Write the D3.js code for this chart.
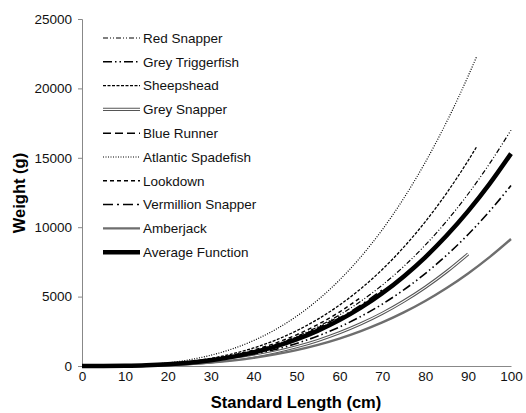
<!DOCTYPE html>
<html><head><meta charset="utf-8">
<script src="https://cdn.jsdelivr.net/npm/d3@7/dist/d3.min.js"></script>
<style>body{margin:0;background:#fff;} svg{display:block;font-family:"Liberation Sans",Arial,sans-serif;}</style>
</head><body>
<script>
// Standard lengths (cm) at which each curve was read
const lengths = [0,5,10,15,20,25,30,35,40,45,50,55,60,65,70,75,80,85,90,95,100];
// Weights (g) at those lengths (last entry may be at a custom end length)
const seriesNames = ["Red Snapper","Grey Triggerfish","Sheepshead","Grey Snapper","Blue Runner","Atlantic Spadefish","Lookdown","Vermillion Snapper","Amberjack","Average Function"];
const redSnapper      = [0,2.1,17,57,136,266,459,729,1088,1549,2125,2828,3672,4669,5831,7172,8704,10441,12393,14576,17000];
const greyTriggerfish = [0,1.6,13,44,104,203,351,557,832,1185,1625,2163,2808,3570,4459,5484,6656,7984,9477,11146,13000];
const sheepshead      = [0,2.5,20,68,162,317,548,870,1298,1849,2536,3376,4383,5572,6959,8560,10389,12461,14792];
const sheepsheadEnd   = [92,15800];
const greySnapper     = [0,1.4,11,37,89,173,299,475,708,1009,1384,1842,2391,3040,3797,4670,5668,6799,8070];
const blueRunner      = [0,2.1,16.5,56,132,258,446,707,1056,1504,2063,2745,3564];
const atlanticSpadefish = [0,3.6,28.6,97,229,447,773,1228,1833,2610,3580,4765,6186,7865,9823,12083,14664,17590,20879];
const spadefishEnd    = [92,22300];
const lookdown        = [0,2.3,18,61,144,281,486,772,1152,1640,2250,2995,3888,4943];
const vermillionSnapper = [0,2,16,54,128,250,432,686,1024,1458,2000,2662,3456,4394,5488];
const amberjack       = [0,1.1,9.2,31,73,143,247,392,586,834,1144,1523,1976,2513,3138,3860,4685,5619,6670,7845,9150];
const averageFunction = [0,1.9,15.3,51.6,122,239,413,656,979,1394,1913,2546,3305,4202,5248,6455,7834,9397,11154,13118,15300];
const xTicks = [0,10,20,30,40,50,60,70,80,90,100];
const yTicks = [0,5000,10000,15000,20000,25000];

function pts(vals, end){ const p = vals.map((v,i)=>[lengths[i],v]); if(end) p.push(end); return p; }

const data = [
  {name:"Red Snapper", p:pts(redSnapper), st:[{c:"#000",w:1.2,d:"5,2,1,2,1,2"}]},
  {name:"Grey Triggerfish", p:pts(greyTriggerfish), st:[{c:"#000",w:1.6,d:"9,3,1.5,3,1.5,3"}]},
  {name:"Sheepshead", p:pts(sheepshead,sheepsheadEnd), st:[{c:"#000",w:1.3,d:"3,1.5"}]},
  {name:"Grey Snapper", p:pts(greySnapper), st:[{c:"#555",w:3.2,d:null},{c:"#fff",w:1.1,d:null}]},
  {name:"Blue Runner", p:pts(blueRunner), st:[{c:"#000",w:1.5,d:"8,4"}]},
  {name:"Atlantic Spadefish", p:pts(atlanticSpadefish,spadefishEnd), st:[{c:"#000",w:1.2,d:"1,1.5"}]},
  {name:"Lookdown", p:pts(lookdown), st:[{c:"#000",w:1.4,d:"4,3"}]},
  {name:"Vermillion Snapper", p:pts(vermillionSnapper), st:[{c:"#000",w:1.5,d:"10,4,2,4"}]},
  {name:"Amberjack", p:pts(amberjack), st:[{c:"#6e6e6e",w:2.4,d:null}]},
  {name:"Average Function", p:pts(averageFunction), st:[{c:"#000",w:4.5,d:null}]}
];

const W=526,H=413;
const svg=d3.select("body").append("svg").attr("width",W).attr("height",H);
const x=d3.scaleLinear().domain([0,100]).range([82,511]);
const y=d3.scaleLinear().domain([0,25000]).range([366,19]);

// y axis
const ya=svg.append("g").attr("transform","translate(82,0)")
  .call(d3.axisLeft(y).tickValues(yTicks).tickSize(4).tickPadding(6).tickFormat(d3.format("d")));
ya.select(".domain").attr("stroke","#888");
ya.selectAll(".tick line").attr("stroke","#888");
ya.selectAll("text").attr("font-size","13.5px").attr("fill","#111").attr("font-family","Liberation Sans, Arial, sans-serif");

// x axis
const xa=svg.append("g").attr("transform","translate(0,366)")
  .call(d3.axisBottom(x).tickValues(xTicks).tickSize(0).tickPadding(5).tickFormat(d3.format("d")));
xa.select(".domain").attr("stroke","#888");
xa.selectAll("text").attr("font-size","13.5px").attr("fill","#111").attr("font-family","Liberation Sans, Arial, sans-serif");

const line=d3.line().x(d=>x(d[0])).y(d=>y(d[1])).curve(d3.curveMonotoneX);
const g=svg.append("g");
data.forEach(s=>{
  s.st.forEach(st=>{
    g.append("path").attr("d",line(s.p)).attr("fill","none").attr("stroke",st.c)
      .attr("stroke-width",st.w).attr("stroke-dasharray",st.d);
  });
});

// legend
const leg=svg.append("g");
data.forEach((s,i)=>{
  const yy=38+i*23.8;
  s.st.forEach(st=>{
    leg.append("line").attr("x1",103).attr("x2",140).attr("y1",yy).attr("y2",yy)
      .attr("stroke",st.c).attr("stroke-width",st.w).attr("stroke-dasharray",st.d);
  });
  leg.append("text").attr("x",143).attr("y",yy+4.8).attr("font-size","13.5px").attr("fill","#111").text(s.name);
});

// axis titles
svg.append("text").attr("x",296).attr("y",408).attr("text-anchor","middle")
  .attr("font-weight","bold").attr("font-size","16.5px").text("Standard Length (cm)");
svg.append("text").attr("transform","translate(25,193) rotate(-90)").attr("text-anchor","middle")
  .attr("font-weight","bold").attr("font-size","16.5px").text("Weight (g)");
</script>
</body></html>
